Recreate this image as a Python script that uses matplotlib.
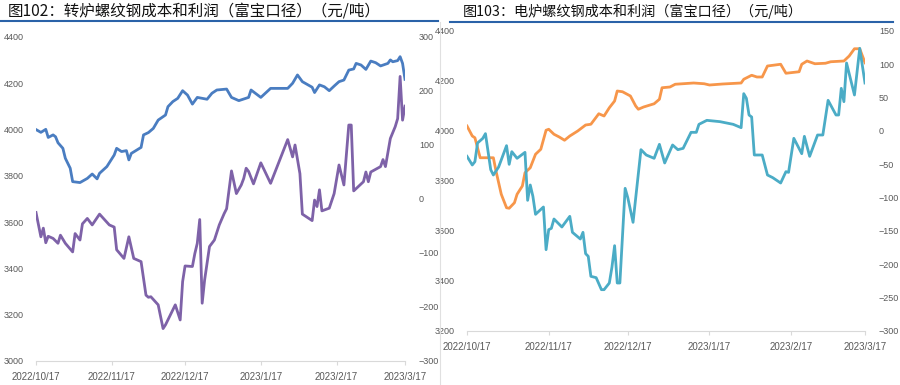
import numpy as np
import pandas as pd
import matplotlib
matplotlib.use("Agg")
import matplotlib.pyplot as plt
import matplotlib.dates as mdates
from matplotlib.lines import Line2D

plt.rcParams["font.family"] = ["Liberation Sans", "Noto Sans CJK SC", "DejaVu Sans"]

# ----------------------------------------------------------------------------
# Data (days after 2022/10/17)
# ----------------------------------------------------------------------------

BASE_DATE = pd.Timestamp("2022-10-17")
TICK_DATES = ["2022-10-17", "2022-11-17", "2022-12-17",
              "2023-01-17", "2023-02-17", "2023-03-17"]

# Fig 102: converter (BOF) rebar, cost (left axis) and profit (right axis)
bof_cost_days = [0, 2, 4, 5, 7, 8, 9, 11, 12, 14, 15, 18, 21, 23, 25, 26, 29, 32,
                 33, 35, 37, 38, 39, 43, 44, 46, 48, 50, 53, 54, 56, 58, 60, 62,
                 64, 66, 70, 72, 74, 78, 80, 83, 87, 88, 92, 96, 103, 105, 107,
                 109, 113, 114, 116, 118, 120, 122, 124, 126, 128, 130, 131, 133,
                 135, 137, 139, 141, 144, 145, 146, 148, 149, 150, 151]
bof_cost = [4000, 3988, 4001, 3966, 3977, 3969, 3943, 3919, 3876, 3833, 3775,
            3771, 3789, 3808, 3787, 3811, 3840, 3890, 3919, 3905, 3909, 3869,
            3897, 3923, 3977, 3987, 4005, 4041, 4063, 4099, 4121, 4135, 4168,
            4149, 4110, 4139, 4131, 4157, 4171, 4175, 4139, 4125, 4139, 4171,
            4139, 4178, 4178, 4200, 4236, 4207, 4183, 4160, 4193, 4185, 4168,
            4188, 4207, 4214, 4257, 4262, 4286, 4279, 4260, 4296, 4289, 4275,
            4286, 4301, 4293, 4298, 4315, 4286, 4217]

bof_profit_days = [0, 2, 3, 4, 5, 7, 9, 10, 12, 15, 16, 18, 19, 21, 23, 26, 28,
                   30, 32, 33, 36, 38, 40, 43, 45, 46, 47, 50, 52, 53, 57, 59,
                   60, 61, 64, 65, 66, 67, 68, 69, 71, 73, 75, 77, 78, 80, 82,
                   84, 85, 86, 87, 89, 92, 96, 103, 105, 106, 108, 109, 113, 114,
                   115, 116, 117, 120, 122, 124, 126, 128, 129, 130, 134, 135,
                   136, 137, 141, 142, 143, 145, 147, 148, 149, 150, 151]
bof_profit = [-25, -70, -54, -81, -69, -73, -82, -67, -82, -98, -64, -76, -46,
              -36, -48, -28, -38, -48, -52, -94, -110, -70, -110, -116, -178,
              -182, -181, -196, -240, -233, -196, -224, -153, -124, -125, -101,
              -82, -38, -193, -150, -88, -76, -48, -27, -18, 52, 10, 26, 38, 57,
              51, 28, 67, 29, 110, 78, 100, 47, -28, -40, -2, -14, 17, -22, -17,
              10, 63, 26, 137, 137, 15, 32, 50, 32, 50, 60, 73, 60, 112, 134,
              149, 227, 146, 172]

# Fig 103: electric furnace (EAF) rebar, cost (left axis) and profit (right axis)
eaf_cost_days = [0, 2, 3, 5, 6, 10, 11, 13, 15, 16, 18, 19, 21, 22, 24, 26, 28,
                 30, 31, 33, 35, 37, 39, 42, 45, 47, 50, 52, 54, 56, 57, 59, 62,
                 64, 65, 67, 71, 73, 74, 77, 79, 86, 90, 92, 97, 104, 105, 108,
                 110, 112, 114, 119, 121, 126, 127, 129, 132, 136, 138, 143, 145,
                 147, 149, 151]
eaf_cost = [4020, 3980, 3973, 3893, 3893, 3893, 3840, 3747, 3693, 3691, 3713,
            3747, 3780, 3833, 3853, 3907, 3927, 4003, 4007, 3987, 3976, 3963,
            3980, 4000, 4024, 4027, 4069, 4060, 4093, 4120, 4160, 4157, 4140,
            4100, 4087, 4096, 4109, 4127, 4173, 4176, 4187, 4192, 4189, 4184,
            4188, 4192, 4207, 4223, 4216, 4216, 4260, 4267, 4231, 4237, 4267,
            4280, 4269, 4271, 4277, 4280, 4300, 4329, 4329, 4273]

eaf_profit_days = [0, 2, 3, 4, 6, 7, 9, 10, 12, 15, 16, 17, 19, 20, 22, 23, 24,
                   25, 26, 29, 30, 31, 32, 33, 36, 39, 40, 43, 44, 45, 46, 47,
                   49, 51, 52, 54, 55, 56, 57, 58, 60, 61, 63, 66, 68, 71, 73,
                   75, 78, 80, 82, 85, 87, 88, 91, 96, 101, 104, 105, 106, 107,
                   108, 109, 112, 114, 116, 119, 121, 122, 124, 127, 128, 130,
                   133, 135, 137, 140, 141, 142, 143, 144, 147, 149, 151]
eaf_profit = [-38, -51, -46, -18, -11, -4, -58, -66, -54, -22, -50, -31, -41,
              -38, -32, -104, -81, -98, -125, -114, -178, -148, -146, -132, -144,
              -128, -152, -162, -152, -184, -188, -218, -220, -238, -238, -228,
              -204, -172, -228, -228, -86, -100, -137, -28, -36, -41, -20, -48,
              -21, -28, -26, -2, -2, 10, 16, 14, 10, 5, 56, 49, 24, 21, -36, -36,
              -66, -70, -78, -61, -62, -11, -34, -8, -38, -6, -6, 46, 24, 24, 64,
              44, 102, 54, 124, 72]


def to_dates(days):
    return BASE_DATE + pd.to_timedelta(days, unit="D")


# ----------------------------------------------------------------------------
# Styling helpers
# ----------------------------------------------------------------------------

TICK_COLOR = "#595959"
AXIS_COLOR = "#D9D9D9"
RULE_COLOR = "#2A62A8"
FS = 6.5


def style_pair(ax, ax2, ylim, yticks, y2lim, y2ticks):
    ax.set_xlim(pd.Timestamp(TICK_DATES[0]), pd.Timestamp(TICK_DATES[-1]))
    ax.set_xticks(pd.to_datetime(TICK_DATES))
    ax.xaxis.set_major_formatter(
        plt.FuncFormatter(lambda v, _: "{0.year}/{0.month}/{0.day}".format(mdates.num2date(v))))
    ax.set_ylim(*ylim)
    ax.set_yticks(yticks)
    ax2.set_ylim(*y2lim)
    ax2.set_yticks(y2ticks)
    for a in (ax, ax2):
        for s in ("top", "left", "right"):
            a.spines[s].set_visible(False)
        a.spines["bottom"].set_color(AXIS_COLOR)
        a.patch.set_visible(False)
    ax2.spines["bottom"].set_visible(False)
    ax.tick_params(axis="x", colors=AXIS_COLOR, labelcolor=TICK_COLOR,
                   labelsize=7, length=3, pad=5)
    ax.tick_params(axis="y", length=0, labelcolor=TICK_COLOR, labelsize=FS, pad=9)
    ax2.tick_params(axis="y", length=0, labelcolor=TICK_COLOR, labelsize=FS, pad=10)


fig = plt.figure(figsize=(9, 3.85), dpi=100)

# Fig 102
ax1 = fig.add_axes([36 / 900, 1 - 361 / 385, 369 / 900, 324 / 385])
ax1b = ax1.twinx()
ax1.plot(to_dates(bof_cost_days), bof_cost, color="#4A7DC1", lw=2.0)
ax1b.plot(to_dates(bof_profit_days), bof_profit, color="#7E62A8", lw=2.0)
style_pair(ax1, ax1b, (3000, 4400), range(3000, 4401, 200),
           (-300, 300), range(-300, 301, 100))

# Fig 103
ax2 = fig.add_axes([467 / 900, 1 - 331 / 385, 398 / 900, 300 / 385])
ax2b = ax2.twinx()
ax2.plot(to_dates(eaf_cost_days), eaf_cost, color="#F7964A", lw=2.0)
ax2b.plot(to_dates(eaf_profit_days), eaf_profit, color="#4BACC6", lw=2.0)
style_pair(ax2, ax2b, (3200, 4400), range(3200, 4401, 200),
           (-300, 150), range(-300, 151, 50))

# Titles and decorations
fig.text(8 / 900, 1 - 11 / 385, "图102：转炉螺纹钢成本和利润（富宝口径）（元/吨）",
         family=["Noto Sans CJK SC", "DejaVu Sans"], fontsize=11.2,
         va="center", ha="left", color="#111111")
fig.text(463 / 900, 1 - 11 / 385, "图103：电炉螺纹钢成本和利润（富宝口径）（元/吨）",
         family=["Noto Sans CJK SC", "DejaVu Sans"], fontsize=10.2,
         va="center", ha="left", color="#111111")

fig.add_artist(Line2D([0, 438 / 900], [1 - 21 / 385] * 2, color=RULE_COLOR, lw=1.5))
fig.add_artist(Line2D([450 / 900, 893 / 900], [1 - 22 / 385] * 2, color=RULE_COLOR, lw=1.5))
fig.add_artist(Line2D([439.5 / 900] * 2, [0, 1 - 22 / 385], color="#E0E0E0", lw=0.8))

fig.savefig("out.png", dpi=100)
